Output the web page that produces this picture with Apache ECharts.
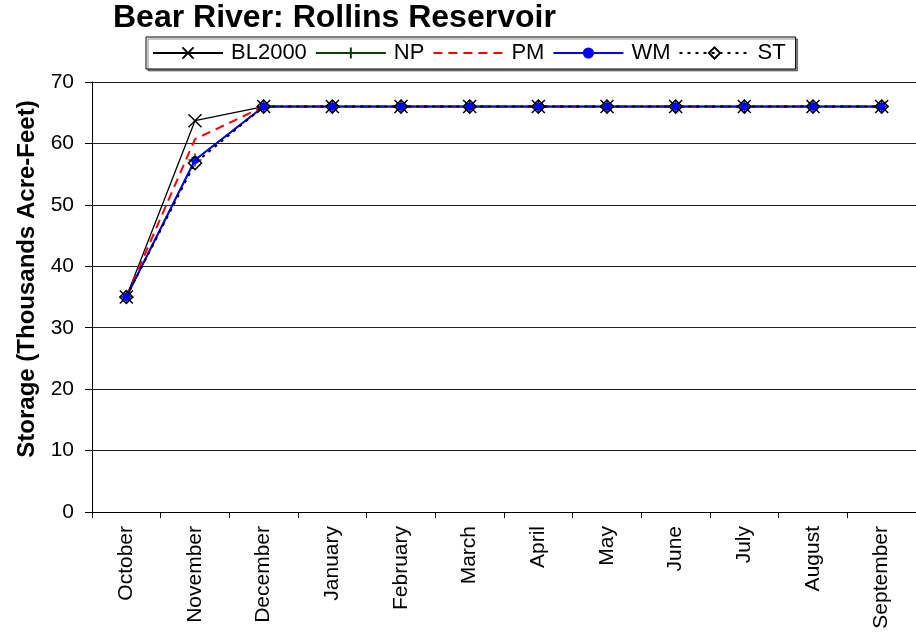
<!DOCTYPE html>
<html>
<head>
<meta charset="utf-8">
<script src="https://cdn.jsdelivr.net/npm/echarts@6/dist/echarts.min.js"></script>
<style>
  html, body { margin: 0; padding: 0; background: #fff; }
  #chart { width: 916px; height: 638px; }
</style>
</head>
<body>
<div id="chart"></div>
<script>
// Months of the water year
const months = ['October', 'November', 'December', 'January', 'February', 'March',
                'April', 'May', 'June', 'July', 'August', 'September'];

// End-of-month storage, thousands of acre-feet
const bl2000 = [35.0, 63.7, 66.0, 66.0, 66.0, 66.0, 66.0, 66.0, 66.0, 66.0, 66.0, 66.0];
const np     = [35.0, 57.3, 66.0, 66.0, 66.0, 66.0, 66.0, 66.0, 66.0, 66.0, 66.0, 66.0];
const pm     = [35.0, 60.7, 66.0, 66.0, 66.0, 66.0, 66.0, 66.0, 66.0, 66.0, 66.0, 66.0];
const wm     = [35.0, 57.3, 66.0, 66.0, 66.0, 66.0, 66.0, 66.0, 66.0, 66.0, 66.0, 66.0];
const st     = [35.0, 56.8, 66.0, 66.0, 66.0, 66.0, 66.0, 66.0, 66.0, 66.0, 66.0, 66.0];

const FONT = '"Liberation Sans", Arial, sans-serif';
const CROSS = 'path://M0,0L10,10M10,0L0,10';
const PLUS = 'path://M5,0L5,10M0,5L10,5';

const chart = echarts.init(document.getElementById('chart'), null, { renderer: 'canvas' });

chart.setOption({
  animation: false,
  backgroundColor: '#fff',
  title: {
    text: 'Bear River: Rollins Reservoir',
    left: 113,
    top: 2,
    padding: 0,
    textStyle: { fontFamily: FONT, fontSize: 32, fontWeight: 'bold', color: '#000' }
  },
  legend: {
    left: 146,
    top: 37,
    padding: [5, 10, 5, 6],
    itemGap: 8,
    itemWidth: 70,
    itemHeight: 14,
    borderColor: '#000',
    borderWidth: 1,
    backgroundColor: '#fff',
    shadowColor: 'rgba(0,0,0,0.45)',
    shadowOffsetX: 2,
    shadowOffsetY: 2,
    shadowBlur: 0,
    textStyle: { fontFamily: FONT, fontSize: 22, color: '#000', padding: [0, 0, 0, 3] },
    data: [
      { name: 'BL2000' },
      { name: 'NP' },
      { name: 'PM', itemStyle: { opacity: 0 } },
      { name: 'WM', itemStyle: { color: '#0000ff' } },
      { name: 'ST' }
    ]
  },
  grid: {
    left: 92,
    top: 82,
    width: 829,
    height: 430,
    containLabel: false
  },
  xAxis: {
    type: 'category',
    data: months,
    boundaryGap: true,
    axisLine: { lineStyle: { color: '#000', width: 1 } },
    axisTick: { show: true, interval: 0, length: 6, lineStyle: { color: '#000' } },
    axisLabel: {
      interval: 0,
      rotate: 90,
      margin: 14,
      fontFamily: FONT,
      fontSize: 21,
      color: '#000'
    },
    splitLine: { show: false }
  },
  yAxis: {
    type: 'value',
    min: 0,
    max: 70,
    interval: 10,
    name: 'Storage (Thousands Acre-Feet)',
    nameLocation: 'middle',
    nameRotate: 90,
    nameGap: 53,
    nameTextStyle: {
      fontFamily: FONT, fontSize: 24, fontWeight: 'bold', color: '#000',
      padding: [0, 0, 0, 36]
    },
    axisLine: { show: true, lineStyle: { color: '#000', width: 1 } },
    axisTick: { show: true, length: 7, lineStyle: { color: '#000' } },
    axisLabel: { margin: 18, fontFamily: FONT, fontSize: 21, color: '#000' },
    splitLine: { show: true, lineStyle: { color: '#222', width: 1 } }
  },
  series: [
    {
      name: 'BL2000',
      type: 'line',
      data: bl2000,
      symbol: CROSS,
      symbolSize: 13,
      lineStyle: { color: '#000', width: 1.3 },
      itemStyle: { color: 'rgba(0,0,0,0)', borderColor: '#000', borderWidth: 1.5 }
    },
    {
      name: 'NP',
      type: 'line',
      data: np,
      symbol: PLUS,
      symbolSize: 13,
      lineStyle: { color: '#0b3d0b', width: 1.5 },
      itemStyle: { color: 'rgba(0,0,0,0)', borderColor: '#0b3d0b', borderWidth: 1.5 }
    },
    {
      name: 'PM',
      type: 'line',
      data: pm,
      symbol: 'none',
      lineStyle: { color: '#ff0000', width: 2, type: [9, 6] },
      itemStyle: { color: '#ff0000' }
    },
    {
      name: 'WM',
      type: 'line',
      data: wm,
      symbol: 'circle',
      symbolSize: 8,
      lineStyle: { color: '#0000ff', width: 2 },
      itemStyle: { color: '#0000ff' }
    },
    {
      name: 'ST',
      type: 'line',
      data: st,
      symbol: 'diamond',
      symbolSize: 13,
      lineStyle: { color: '#000', width: 2, type: [3, 5] },
      itemStyle: { color: 'rgba(255,255,255,0)', borderColor: '#000', borderWidth: 1.5 }
    }
  ]
});
</script>
</body>
</html>
